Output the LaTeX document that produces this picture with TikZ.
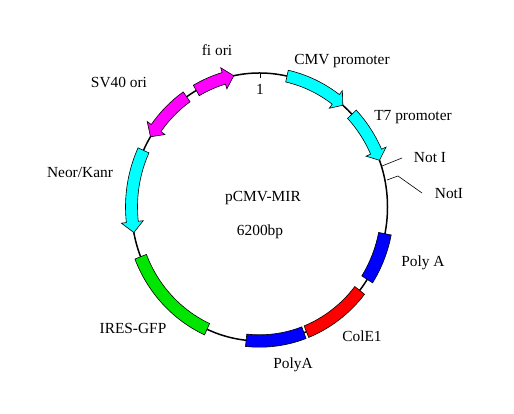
\documentclass[tikz,border=0pt]{standalone}
\usepackage{fontspec}
\setmainfont{Liberation Serif}
\newcommand\EP[2]{({259.5+(128+#2)*cos(#1)},{207+(134+#2)*sin(#1)})}
% block: start, end, half width, colour
\newcommand\featblock[4]{%
  \draw[feat,fill=#4] \EP{#1}{#3} arc[start angle=#1,end angle=#2,x radius=128+#3,y radius=134+#3]
    -- \EP{#2}{-#3} arc[start angle=#2,end angle=#1,x radius=128-#3,y radius=134-#3] -- cycle;}
% arrow: start, head base, tip, colour
\newcommand\featarrow[4]{%
  \draw[feat,fill=#4] \EP{#1}{6} arc[start angle=#1,end angle=#2,x radius=134,y radius=140]
    -- \EP{#2}{11} -- \EP{#3}{0} -- \EP{#2}{-11} -- \EP{#2}{-6}
    arc[start angle=#2,end angle=#1,x radius=122,y radius=128] -- cycle;}
\definecolor{gfpgreen}{RGB}{0,230,0}
\definecolor{fcyan}{RGB}{0,255,255}
\definecolor{fmagenta}{RGB}{255,0,255}
\definecolor{fblue}{RGB}{0,0,255}
\definecolor{fred}{RGB}{255,0,0}
\tikzset{
  feat/.style={draw=black,line width=0.6pt,line join=miter},
  lab/.style={inner sep=0pt,font=\fontsize{15.4}{17}\selectfont,text=black},
  backbone/.style={draw=black,line width=1.5pt},
  thinline/.style={draw=black,line width=0.6pt}
}
\begin{document}
\begin{tikzpicture}[x=1pt,y=1pt]
\useasboundingbox (0,0) rectangle (514,414);
\fill[white] (0,0) rectangle (514,414);
\draw[backbone] (259.5,207) ellipse [x radius=128,y radius=134];
\coordinate (tickA) at (260,341);
\coordinate (tickB) at (260,336);
\draw[thinline] (tickA) -- (tickB);
\coordinate (notA) at (382,248);
\coordinate (notB) at (402,256);
\draw[thinline] (notA) -- (notB);
\coordinate (notiA) at (387,234);
\coordinate (notiB) at (398,238);
\coordinate (notiC) at (422,221);
\draw[thinline] (notiA) -- (notiB) -- (notiC);
\featarrow{77.6}{53.4}{49.4}{fcyan}
\featarrow{43.8}{24.4}{20.4}{fcyan}
\featblock{-11.5}{-32.7}{6.4}{fblue}
\featblock{-38.5}{-68.5}{6.2}{fred}
\featblock{-69.7}{-96}{6.2}{fblue}
\featblock{245.8}{201.8}{6.2}{gfpgreen}
\featarrow{155}{186.4}{191}{fcyan}
\featarrow{124.7}{143.9}{148.4}{fmagenta}
\featarrow{119.6}{106.2}{101.6}{fmagenta}
\node[lab] (fi) at (217,364) {fi ori};
\node[lab] (cmv) at (342,352.5) {CMV promoter};
\node[lab] (t7) at (413,296.5) {T7 promoter};
\node[lab] (not1) at (430,256) {Not I};
\node[lab] (not2) at (449,220) {NotI};
\node[lab] (polya1) at (423,151.5) {Poly A};
\node[lab] (cole) at (362,78) {ColE1};
\node[lab] (polya2) at (293,49.5) {PolyA};
\node[lab] (ires) at (133,86) {IRES-GFP};
\node[lab] (neo) at (80,241) {Neor/Kanr};
\node[lab] (sv) at (119,331) {SV40 ori};
\node[lab] (name) at (263,215.5) {pCMV-MIR};
\node[lab] (size) at (260,182.5) {6200bp};
\node[lab] (one) at (260,325) {1};
\end{tikzpicture}
\end{document}
